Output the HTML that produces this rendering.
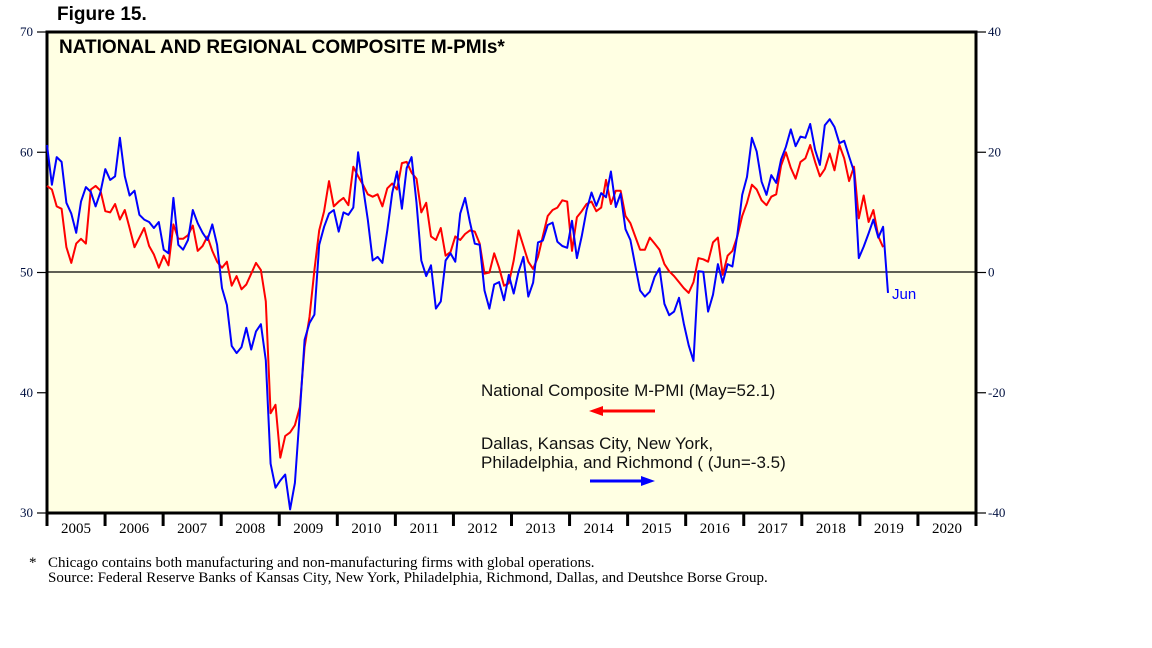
<!DOCTYPE html>
<html><head><meta charset="utf-8"><style>
body{margin:0;background:#fff;width:1152px;height:648px;overflow:hidden}
svg{display:block}
.sans{font-family:"Liberation Sans",sans-serif}
.serif{font-family:"Liberation Serif",serif}
</style></head><body>
<svg id="chart" width="1152" height="648" xmlns="http://www.w3.org/2000/svg">
<text x="57" y="20" class="sans" font-size="19" font-weight="bold">Figure 15.</text>
<rect x="47" y="32" width="929" height="481" fill="#ffffe3" stroke="#000" stroke-width="3"/>
<text x="59" y="53" class="sans" font-size="19" font-weight="bold">NATIONAL AND REGIONAL COMPOSITE M-PMIs*</text>
<line x1="48" y1="272" x2="975" y2="272" stroke="#000" stroke-width="1.2"/>
<g id="axes"></g>
<g id="series"></g>
<text x="481" y="396" class="sans" font-size="17" fill="#111">National Composite M-PMI (May=52.1)</text>
<line x1="655" y1="411" x2="600" y2="411" stroke="#f00" stroke-width="3"/>
<polygon points="589,411 603,406 603,416" fill="#f00"/>
<text x="481" y="449" class="sans" font-size="17" fill="#111">Dallas, Kansas City, New York,</text>
<text x="481" y="468" class="sans" font-size="17" fill="#111">Philadelphia, and Richmond ( (Jun=-3.5)</text>
<line x1="590" y1="481" x2="644" y2="481" stroke="#00f" stroke-width="3"/>
<polygon points="655,481 641,476 641,486" fill="#00f"/>
<text x="892" y="299" class="sans" font-size="15" fill="#00f">Jun</text>
<text x="29" y="567" class="serif" font-size="15">*</text>
<text x="48" y="567" class="serif" font-size="15">Chicago contains both manufacturing and non-manufacturing firms with global operations.</text>
<text x="48" y="582" class="serif" font-size="15">Source: Federal Reserve Banks of Kansas City, New York, Philadelphia, Richmond, Dallas, and Deutshce Borse Group.</text>
</svg>
<script>
const years = ["2005","2006","2007","2008","2009","2010","2011","2012","2013","2014","2015","2016","2017","2018","2019","2020"];
const leftTicks = [30,40,50,60,70];
const rightTicks = [-40,-20,0,20,40];
const nationalPMI = [57.2,56.9,55.5,55.3,52.1,50.8,52.4,52.8,52.4,56.9,57.2,56.8,55.1,55.0,55.7,54.4,55.2,53.7,52.1,52.9,53.7,52.2,51.5,50.4,51.4,50.6,54.0,52.8,52.8,53.1,53.9,51.8,52.2,53.0,51.8,50.9,50.4,50.9,48.9,49.7,48.6,49.0,49.9,50.8,50.2,47.6,38.3,39.0,34.6,36.4,36.7,37.3,38.8,43.8,46.3,50.2,53.5,55.1,57.6,55.5,55.9,56.2,55.6,58.8,58.0,57.3,56.5,56.3,56.5,55.5,57.0,57.4,56.9,59.1,59.2,58.3,57.8,55.0,55.8,53.0,52.7,53.7,51.4,51.7,53.0,52.7,53.2,53.5,53.4,52.4,49.9,50.0,51.6,50.4,48.9,49.1,51.0,53.5,52.2,50.9,50.3,51.3,53.0,54.7,55.2,55.4,56.0,55.9,51.8,54.6,55.1,55.7,55.9,55.1,55.4,57.7,55.7,56.8,56.8,54.7,54.1,53.0,51.9,51.9,52.9,52.4,51.9,50.7,50.1,49.7,49.2,48.7,48.3,49.2,51.2,51.1,50.9,52.5,52.9,49.8,51.4,51.8,53.0,54.7,55.8,57.3,56.9,56.0,55.6,56.3,56.5,58.9,60.0,58.7,57.8,59.2,59.5,60.6,59.2,58.0,58.6,59.9,58.5,60.6,59.5,57.6,58.8,54.5,56.4,54.2,55.2,53.0,52.1];
const regionalPMI = [21.2,14.6,19.2,18.4,11.6,9.8,6.6,11.8,14.2,13.4,11.0,13.4,17.2,15.4,16.0,22.4,16.0,12.8,13.6,9.6,8.8,8.4,7.4,8.4,3.8,3.2,12.4,4.6,3.8,5.4,10.4,8.2,6.6,5.4,8.0,4.6,-2.6,-5.4,-12.2,-13.4,-12.4,-9.2,-12.8,-9.8,-8.6,-14.6,-31.8,-35.8,-34.6,-33.6,-39.4,-35.0,-23.4,-11.2,-8.4,-7.0,4.6,7.6,9.8,10.4,6.8,10.0,9.6,10.8,20.0,14.2,8.8,2.0,2.6,1.6,7.0,13.2,16.8,10.6,17.4,19.2,11.6,2.0,-0.6,1.2,-6.0,-4.8,2.0,3.2,1.8,9.8,12.4,8.4,4.8,4.6,-3.0,-6.0,-2.0,-1.6,-4.6,-0.4,-3.5,0.1,2.6,-4.0,-1.7,5.0,5.3,7.9,8.3,5.1,4.4,4.1,8.6,2.4,6.0,10.4,13.3,11.1,13.2,12.5,16.8,10.9,13.1,7.2,5.4,1.2,-3.0,-4.0,-3.2,-0.7,0.7,-5.2,-7.1,-6.5,-4.2,-8.5,-12.1,-14.7,0.2,0.1,-6.5,-3.7,1.4,-1.7,1.4,1.0,6.2,12.9,15.9,22.4,20.1,15.1,12.9,16.2,14.9,18.8,20.9,23.8,21.0,22.6,22.4,24.7,20.4,17.9,24.5,25.5,24.2,21.5,21.9,19.3,16.8,2.4,4.3,6.5,8.8,5.8,7.6,-3.4];

const NS="http://www.w3.org/2000/svg";
const X0=47, X1=976, Y0=32, Y1=513;
const xMonth = i => 47 + i*(888-47)/173;
const yLeft = v => Y0 + (70-v)*(Y1-Y0)/40;
const yRight = v => Y0 + (40-v)*(Y1-Y0)/80;
const axes=document.getElementById('axes'), series=document.getElementById('series');
function mk(tag, attrs, parent){const e=document.createElementNS(NS,tag);for(const k in attrs)e.setAttribute(k,attrs[k]);parent.appendChild(e);return e;}

leftTicks.forEach(v=>{
  const y=yLeft(v);
  const t=mk('line',{x1:37,y1:y,x2:47,y2:y,stroke:'#000','stroke-width':1.2},axes);
  
  
  const l=mk('text',{x:33,y:y+4,'text-anchor':'end','font-size':13,fill:'#001040',class:'serif'},axes);
  l.textContent=v;
  
  
});
rightTicks.forEach(v=>{
  const y=yRight(v);
  const t=mk('line',{x1:976,y1:y,x2:986,y2:y,stroke:'#000','stroke-width':1.2},axes);
  
  
  const l=mk('text',{x:988,y:y+4,'font-size':13,fill:'#001040',class:'serif'},axes);
  l.textContent=v;
  
  
});
const yw=(X1-X0)/years.length;
for(let k=0;k<=years.length;k++){
  const x=X0+k*yw;
  const t=mk('line',{x1:x,y1:513,x2:x,y2:526,stroke:'#000','stroke-width':3},axes);
  
  
}
years.forEach((yr,k)=>{
  const l=mk('text',{x:X0+(k+0.5)*yw,y:533,'text-anchor':'middle','font-size':15,class:'serif'},axes);
  l.textContent=yr;
  
  
});
const redPts=nationalPMI.map((v,i)=>xMonth(i).toFixed(1)+','+yLeft(v).toFixed(1)).join(' ');
const red=mk('polyline',{points:redPts,fill:'none',stroke:'#f00','stroke-width':2,'stroke-linejoin':'round'},series);


const bluePts=regionalPMI.map((v,i)=>xMonth(i).toFixed(1)+','+yRight(v).toFixed(1)).join(' ');
const blue=mk('polyline',{points:bluePts,fill:'none',stroke:'#00f','stroke-width':2,'stroke-linejoin':'round'},series);


</script>
</body></html>
